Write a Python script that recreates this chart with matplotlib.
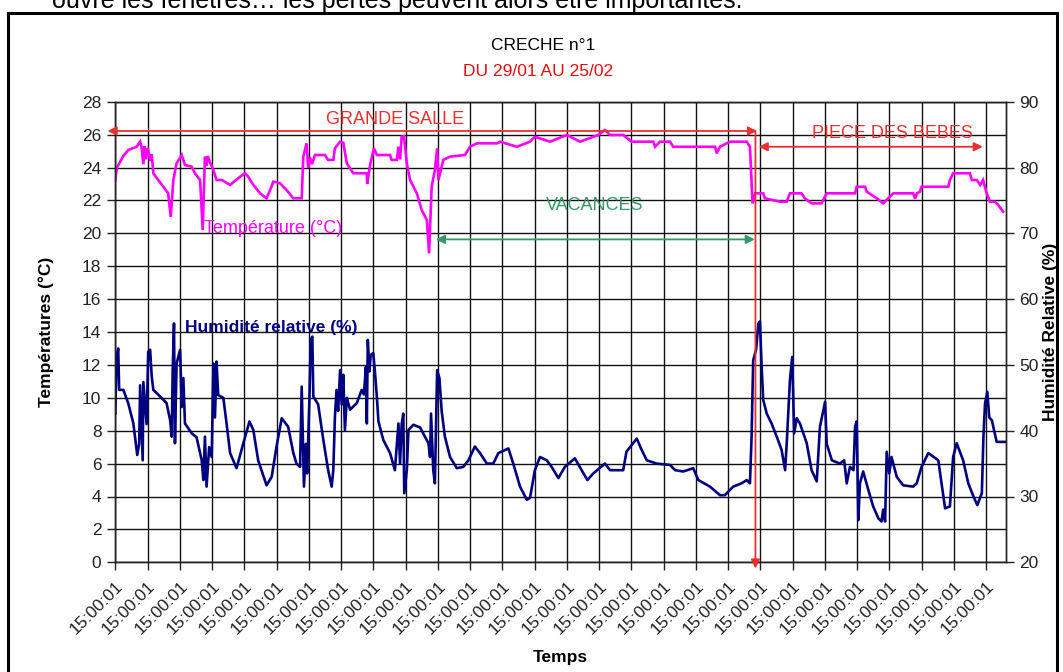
import matplotlib
matplotlib.use("Agg")
import matplotlib.pyplot as plt
from matplotlib.patches import Rectangle

plt.rcParams['font.family'] = ['Liberation Sans', 'DejaVu Sans']

# temperature (left axis, degC), x in days since 29/01 15:00:01
temp_days = [0.00, 0.05, 0.15, 0.25, 0.40, 0.66, 0.77, 0.81, 0.87, 0.91, 0.95, 1.01, 1.08, 1.13,
             1.18, 1.33, 1.49, 1.64, 1.72, 1.80, 1.90, 2.06, 2.16, 2.37, 2.47, 2.63, 2.71, 2.78,
             2.83, 2.87, 2.94, 3.04, 3.14, 3.30, 3.56, 3.87, 4.02, 4.12, 4.28, 4.49, 4.69, 4.80,
             4.90, 5.11, 5.31, 5.52, 5.78, 5.83, 5.93, 5.98, 6.04, 6.10, 6.19, 6.50, 6.60, 6.76,
             6.81, 6.97, 7.07, 7.18, 7.38, 7.80, 7.81, 7.90, 8.02, 8.11, 8.52, 8.57, 8.73, 8.78,
             8.83, 8.88, 8.95, 9.04, 9.14, 9.35, 9.50, 9.66, 9.73, 9.81, 9.91, 9.98, 10.02, 10.17,
             10.38, 10.84, 11.00, 11.21, 11.84, 11.93, 12.45, 12.86, 13.01, 13.48, 14.00, 14.41,
             14.98, 15.18, 15.34, 15.75, 16.01, 16.68, 16.74, 16.89, 17.20, 17.30, 18.60, 18.65,
             18.75, 19.06, 19.58, 19.68, 19.76, 19.84, 20.09, 20.14, 20.61, 20.82, 20.92, 21.28,
             21.38, 21.59, 21.90, 22.06, 22.94, 22.99, 23.25, 23.30, 23.61, 23.81, 23.97, 24.12,
             24.74, 24.80, 24.86, 24.95, 25.00, 25.83, 25.88, 25.98, 26.50, 26.56, 26.71, 26.82,
             26.91, 27.02, 27.12, 27.28, 27.38, 27.53]
temp_vals = [23.2, 24.0, 24.35, 24.7, 25.06, 25.26, 25.57, 25.3, 24.2, 25.3, 24.5, 25.2, 24.4, 24.8,
             23.65, 23.24, 22.83, 22.43, 21.0, 23.24, 24.25, 24.76, 24.15, 24.05, 23.65, 23.24, 20.2, 24.66,
             24.1, 24.7, 24.3, 23.85, 23.24, 23.24, 22.94, 23.44, 23.65, 23.44, 22.94, 22.43, 22.13, 22.63,
             23.14, 23.04, 22.63, 22.13, 22.13, 24.66, 25.47, 24.0, 24.6, 24.2, 24.76, 24.76, 24.46, 24.46,
             25.17, 25.57, 25.5, 24.25, 23.65, 23.65, 23.0, 24.15, 25.17, 24.76, 24.76, 24.46, 24.46, 25.26,
             24.5, 25.87, 25.9, 24.25, 23.24, 22.43, 21.42, 20.81, 18.78, 22.83, 23.85, 25.17, 23.24, 24.46,
             24.66, 24.76, 25.26, 25.47, 25.47, 25.57, 25.26, 25.57, 25.87, 25.57, 25.98, 25.57,
             25.98, 26.28, 25.98, 25.98, 25.57, 25.57, 25.26, 25.57, 25.57, 25.26, 25.26, 24.86,
             25.26, 25.57, 25.57, 25.26, 21.82, 22.43, 22.43, 22.13, 21.92, 21.92, 22.43, 22.43,
             22.13, 21.82, 21.82, 22.43, 22.43, 22.83, 22.83, 22.53, 22.13, 21.82, 22.13, 22.43,
             22.43, 22.1, 22.43, 22.53, 22.83, 22.83, 23.24, 23.65, 23.65, 23.24, 23.24, 22.94,
             23.24, 22.43, 21.92, 21.92, 21.72, 21.31]

# relative humidity (right axis, %)
hum_days = [0.00, 0.04, 0.09, 0.12, 0.25, 0.40, 0.56, 0.68, 0.74, 0.77, 0.85, 0.87, 0.97, 1.02,
            1.08, 1.13, 1.18, 1.39, 1.59, 1.70, 1.75, 1.78, 1.82, 1.85, 1.90, 2.01, 2.06, 2.11,
            2.16, 2.37, 2.52, 2.68, 2.73, 2.78, 2.83, 2.91, 2.99, 3.04, 3.09, 3.14, 3.19, 3.35,
            3.45, 3.56, 3.76, 3.97, 4.16, 4.28, 4.43, 4.69, 4.85, 5.00, 5.16, 5.36, 5.52, 5.62,
            5.73, 5.78, 5.85, 5.91, 5.95, 6.02, 6.06, 6.11, 6.14, 6.29, 6.45, 6.60, 6.71, 6.76,
            6.81, 6.86, 6.91, 6.97, 7.02, 7.07, 7.12, 7.18, 7.28, 7.49, 7.64, 7.71, 7.77, 7.80,
            7.83, 7.88, 7.92, 8.00, 8.05, 8.11, 8.16, 8.31, 8.52, 8.67, 8.78, 8.83, 8.88, 8.93,
            8.96, 9.04, 9.09, 9.24, 9.45, 9.71, 9.76, 9.79, 9.86, 9.91, 9.98, 10.05, 10.12, 10.22,
            10.38, 10.59, 10.79, 10.95, 11.15, 11.31, 11.52, 11.72, 11.88, 12.19, 12.34, 12.55,
            12.76, 12.86, 13.01, 13.17, 13.38, 13.53, 13.74, 13.94, 14.25, 14.46, 14.64, 14.82,
            15.18, 15.34, 15.75, 15.85, 16.17, 16.32, 16.48, 16.79, 17.20, 17.36, 17.61, 17.92,
            18.08, 18.44, 18.75, 18.90, 19.16, 19.42, 19.58, 19.68, 19.73, 19.78, 19.87, 19.94,
            19.99, 20.04, 20.09, 20.20, 20.35, 20.51, 20.66, 20.77, 20.82, 20.92, 20.99, 21.05,
            21.13, 21.23, 21.44, 21.59, 21.75, 21.85, 22.01, 22.06, 22.22, 22.47, 22.60, 22.68,
            22.78, 22.89, 22.94, 22.99, 23.04, 23.09, 23.19, 23.35, 23.50, 23.66, 23.76, 23.81,
            23.87, 23.92, 24.00, 24.07, 24.23, 24.43, 24.74, 24.85, 25.00, 25.21, 25.52, 25.62,
            25.73, 25.88, 25.98, 26.09, 26.29, 26.45, 26.61, 26.73, 26.87, 26.92, 26.97, 27.04,
            27.10, 27.18, 27.33, 27.59]
hum_vals = [42.6, 51.2, 52.5, 46.2, 46.2, 44.2, 41.1, 36.3, 38.0, 46.9, 35.5, 47.4, 41.0, 52.0,
            52.3, 48.2, 46.2, 45.2, 44.2, 41.6, 39.1, 49.2, 56.3, 38.1, 50.2, 52.3, 43.6, 48.0,
            41.1, 39.6, 39.0, 35.5, 32.5, 39.1, 31.5, 37.5, 36.0, 50.2, 42.0, 50.5, 45.4, 45.0,
            41.1, 36.6, 34.3, 38.1, 41.4, 40.1, 35.5, 31.7, 33.0, 37.6, 41.9, 40.6, 36.6, 35.0,
            34.5, 46.7, 31.5, 38.0, 33.5, 45.0, 53.8, 54.3, 45.2, 44.0, 38.6, 34.0, 31.5, 34.0,
            42.1, 46.2, 43.0, 49.2, 44.0, 48.5, 40.1, 45.0, 43.2, 44.2, 46.2, 45.5, 49.7, 41.1,
            53.8, 49.0, 51.5, 51.8, 49.0, 45.2, 41.4, 38.6, 36.6, 34.0, 41.1, 35.0, 41.0, 42.6,
            30.5, 34.0, 40.1, 40.9, 40.5, 38.1, 36.0, 42.6, 34.0, 32.0, 49.2, 48.0, 43.0, 39.1,
            36.0, 34.3, 34.5, 35.5, 37.6, 36.6, 35.0, 35.0, 36.6, 37.3, 35.0, 31.5,
            29.5, 29.8, 34.0, 36.0, 35.5, 34.5, 32.8, 34.5, 35.8, 34.0, 32.5, 33.5,
            35.0, 34.0, 34.0, 36.8, 38.8, 37.1, 35.5, 35.0, 34.8, 34.0, 33.8, 34.3,
            32.5, 31.5, 30.2, 30.2, 31.5, 32.0, 32.5, 32.0, 39.1, 50.7, 52.3, 56.3,
            56.6, 50.0, 44.7, 42.6, 41.1, 39.1, 37.1, 34.0, 38.1, 47.7, 51.2, 39.6,
            41.9, 41.1, 38.1, 34.0, 32.3, 40.6, 44.4, 38.0, 35.5, 35.0, 35.5, 32.0,
            34.5, 34.0, 40.6, 41.4, 26.4, 32.0, 33.8, 31.0, 28.5, 26.7, 26.2, 28.0,
            26.2, 36.8, 33.5, 36.0, 33.0, 31.7, 31.5, 32.0, 34.5, 36.6, 35.5, 32.0,
            28.2, 28.5, 36.0, 38.1, 35.5, 32.0, 30.0, 28.7, 30.5, 39.1, 44.2, 45.9,
            42.0, 41.6, 38.3, 38.3]

tick_days = list(range(28))
tick_labels = ['15:00:01'] * 28

W, H = 1063, 672
fig = plt.figure(figsize=(W / 100, H / 100), dpi=100)
ax = fig.add_axes([115.3 / W, (H - 562.3) / H, (1005.7 - 115.3) / W, (562.3 - 101.7) / H])
ax2 = ax.twinx()

ax.plot(temp_days, temp_vals, color='#ff00ff', lw=1.9, solid_joinstyle='miter')
ax2.plot(hum_days, hum_vals, color='#000080', lw=1.9)

ax.set_xlim(0, 27.61)
ax.set_ylim(0, 28)
ax2.set_ylim(20, 90)
ax.set_yticks(range(0, 29, 2))
ax2.set_yticks(range(20, 91, 10))
ax.set_xticks(tick_days)
ax.set_xticklabels(tick_labels, rotation=45, ha='right', va='top', rotation_mode='anchor')

ax.grid(True, color='#111111', lw=1.0)
ax.set_axisbelow(True)
for a in (ax, ax2):
    for s in a.spines.values():
        s.set_color('#222222')
        s.set_linewidth(1.0)
ax.tick_params(axis='both', direction='out', length=6, width=1, labelsize=12.5,
               colors='#222222', pad=4)
ax.tick_params(axis='x', pad=6)
ax2.tick_params(axis='y', direction='out', length=6, width=1, labelsize=12.5,
                colors='#222222', pad=4)

ax.set_ylabel('Températures (°C)', fontsize=12.5, fontweight='bold', labelpad=20)
ax2.set_ylabel('Humidité Relative (%)', fontsize=12.5, fontweight='bold', labelpad=3)
ax.set_xlabel('Temps', fontsize=12.5, fontweight='bold', labelpad=9)

fig.text(543 / W, 1 - 46 / H, 'CRECHE n°1', fontsize=12.5, ha='center', va='center', color='black')
fig.text(538 / W, 1 - 71 / H, 'DU 29/01 AU 25/02', fontsize=12.5, ha='center', va='center',
         color='#e01010')

# annotations (drawn in temperature units on top of both series)
tr = ax.transData
red = '#e83030'
green = '#339966'


def arrow(x0, y0, x1, y1, color, style):
    ax2.annotate('', xy=(x1, y1), xytext=(x0, y0), xycoords=tr, textcoords=tr,
                 arrowprops=dict(arrowstyle=style, color=color, lw=1.3, shrinkA=0, shrinkB=0,
                                 mutation_scale=13),
                 annotation_clip=False)


arrow(-0.24, 26.22, 19.9, 26.22, red, '<|-|>')
arrow(19.85, 26.2, 19.85, -0.38, red, '-|>')
arrow(19.95, 25.26, 26.9, 25.26, red, '<|-|>')
arrow(9.94, 19.63, 19.83, 19.63, green, '<|-|>')

ax2.text(6.53, 26.9, 'GRANDE SALLE', transform=tr, fontsize=13, color=red, ha='left', va='center')
ax2.text(24.11, 26.05, 'PIECE DES BEBES', transform=tr, fontsize=13, color=red, ha='center',
         va='center')
ax2.text(14.87, 21.72, 'VACANCES', transform=tr, fontsize=13, color=green, ha='center', va='center')
ax2.text(2.75, 20.32, 'Température (°C)', transform=tr, fontsize=13, color='#ff00ff', ha='left',
         va='center')
ax2.text(2.16, 14.25, 'Humidité relative (%)', transform=tr, fontsize=12.5, color='#000080',
         fontweight='bold', ha='left', va='center')

# page frame and the cut text line above it
fig.patches.append(Rectangle((8 / W, -0.05), (1057 - 8) / W, (H - 13) / H + 0.05,
                             transform=fig.transFigure, fill=False, lw=2.2, ec='black'))
fig.text(52 / W, 1 - 8 / H, 'ouvre les fenêtres… les pertes peuvent alors être importantes.',
         fontsize=18, ha='left', va='baseline', color='black')

fig.savefig('out.png', dpi=100)
